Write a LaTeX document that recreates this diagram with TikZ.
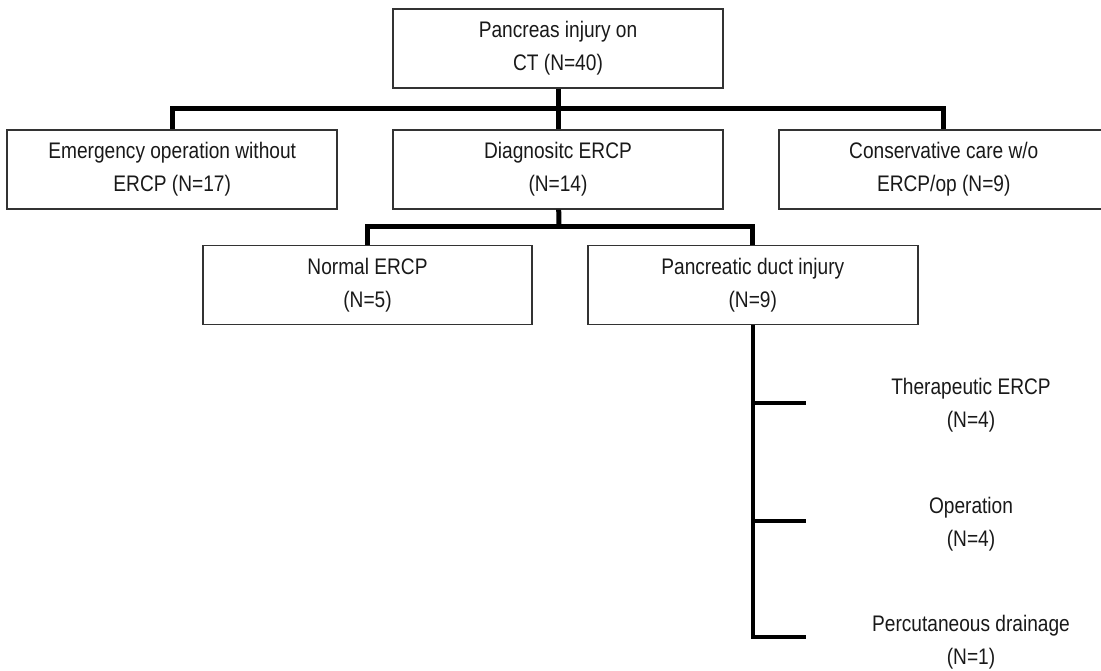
\documentclass[tikz,border=0pt]{standalone}
\usepackage{fontspec}
\setmainfont{Liberation Sans}[FakeStretch=0.85]
\usetikzlibrary{positioning}

\begin{document}
\begin{tikzpicture}
[x=1pt,y=1pt,
 stage/.style={shape=rectangle,draw=black!80,line width=1.8pt,
   minimum width=330pt,minimum height=79pt,inner sep=0pt,
   align=center,text=black!90,font=\fontsize{22.5}{33}\selectfont},
 outcome/.style={align=center,text=black!90,font=\fontsize{22.5}{33}\selectfont},
 link/.style={line width=5pt}]

\useasboundingbox (0,0) rectangle (1101,-670);

\node (ct) [stage] at (558,-48.5) {Pancreas injury on\\CT (N=40)};

\node (diag) [stage,below=40pt of ct] {Diagnositc ERCP\\(N=14)};
\node (emerg) [stage,left=54pt of diag] {Emergency operation without\\ERCP (N=17)};
\node (cons) [stage,right=54pt of diag] {Conservative care w/o\\ERCP/op (N=9)};

\node (normal) [stage,minimum width=329pt] at (367.5,-285) {Normal ERCP\\(N=5)};
\node (duct) [stage,right=54pt of normal] {Pancreatic duct injury\\(N=9)};

\node (ther) [outcome] at (971,-405) {Therapeutic ERCP\\(N=4)};
\node (oper) [outcome] at (971,-524) {Operation\\(N=4)};
\node (perc) [outcome] at (971,-642) {Percutaneous drainage\\(N=1)};

% first split
\coordinate (j1) at (558,-108);
\draw [link] (ct) -- (j1);
\draw [link] (j1) -- (diag);
\draw [link] (emerg.north) |- (j1) -| (cons.north);

% second split
\coordinate (j2) at (559,-226);
\draw [link] (diag) -- (j2);
\draw [link] (normal.north) |- (j2) -| (duct.north);

% treatment of duct injury
\coordinate (b1) at (806,-403);
\coordinate (b2) at (806,-521);
\coordinate (b3) at (806,-637);
\draw [link,line width=4.5pt] (duct.south) -- (duct.south |- b3) -- (b3);
\draw [link,line width=4.5pt] (duct.south |- b1) -- (b1);
\draw [link,line width=4.5pt] (duct.south |- b2) -- (b2);
\end{tikzpicture}
\end{document}
